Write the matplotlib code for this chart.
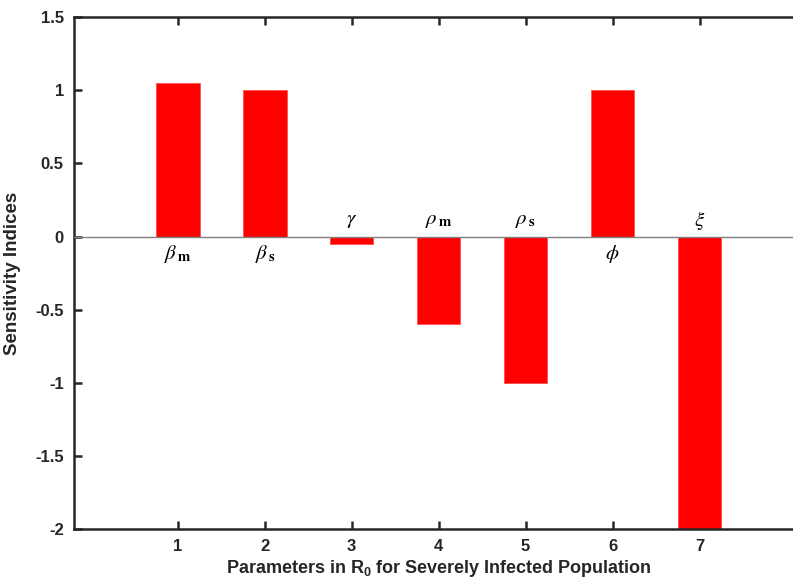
import numpy as np
import matplotlib
matplotlib.use("Agg")
import matplotlib.pyplot as plt

# Sensitivity indices of R0 (severely infected population)
params = [1, 2, 3, 4, 5, 6, 7]
indices = [1.05, 1.0, -0.05, -0.6, -1.0, 1.0, -2.0]
symbols = [r'$\beta_{\,\mathbf{m}}$', r'$\beta_{\,\mathbf{s}}$', r'$\gamma$',
           r'$\rho_{\,\mathbf{m}}$', r'$\rho_{\,\mathbf{s}}$', r'$\phi$', r'$\xi$']
yticks = [-2, -1.5, -1, -0.5, 0, 0.5, 1, 1.5]
ytick_labels = ['-2', '-1.5', '-1', '-0.5', '0', '0.5', '1', '1.5']

plt.rcParams['font.family'] = ['Liberation Sans', 'DejaVu Sans']
plt.rcParams['mathtext.fontset'] = 'custom'
plt.rcParams['mathtext.rm'] = 'Liberation Sans:bold'
plt.rcParams['mathtext.bf'] = 'Liberation Sans:bold'
plt.rcParams['mathtext.it'] = 'Liberation Sans:bold'

dark = '#262626'

fig = plt.figure(figsize=(7.93, 5.81), dpi=100)
ax = fig.add_axes([0.0927, 0.0895, 0.921, 0.881])

ax.bar(params, indices, width=0.5, color='#ff0000', edgecolor='#ff5050', linewidth=0.6, zorder=2)
ax.axhline(0, color='#808080', linewidth=1.0, zorder=3)

# parameter symbols next to the zero line
for x, v, s in zip(params, indices, symbols):
    y = -0.12 if v > 0 else 0.11
    ax.text(x, y, s, ha='center', va='center', fontsize=15, math_fontfamily='stix')

ax.set_xlim(-0.2, 8.2)
ax.set_ylim(-2, 1.5)
ax.set_xticks(params)
ax.set_yticks(yticks)
ax.set_yticklabels(ytick_labels)

for sp in ax.spines.values():
    sp.set_linewidth(1.8)
    sp.set_color(dark)

ax.tick_params(axis='both', direction='in', length=6, width=1.8, color=dark,
               labelsize=12, labelcolor=dark, top=True, right=False, pad=7)
for lab in ax.get_xticklabels() + ax.get_yticklabels():
    lab.set_fontweight('bold')

ax.set_xlabel(r'Parameters in R$_{0}$ for Severely Infected Population',
              fontsize=13, fontweight='bold', color=dark, labelpad=3, math_fontfamily='custom')
ax.set_ylabel('Sensitivity Indices', fontsize=13.5, fontweight='bold', color=dark, labelpad=10)

fig.savefig('out.png', dpi=100)
